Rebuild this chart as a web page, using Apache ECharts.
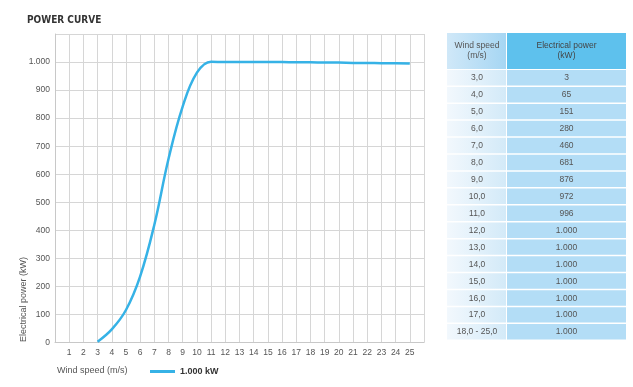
<!DOCTYPE html>
<html>
<head>
<meta charset="utf-8">
<script src="https://cdn.jsdelivr.net/npm/echarts@6/dist/echarts.min.js"></script>
<style>
html,body{margin:0;padding:0;background:#fff;}
#c{width:633px;height:387px;}
</style>
</head>
<body>
<div id="c"></div>
<script>
// Curve data (wind speed m/s, power kW)
const windSpeeds = [3,4,5,6,7,8,9,10,11,12,13,14,15,16,17,18,19,20,21,22,23,24,25];
const powerValues = [3,47,116,236,420,655,842,962,1001,1000,1000,1000,1000,1000,999,999,998,998,997,997,996,996,995];
// Table
const tableSpeeds = ['3,0','4,0','5,0','6,0','7,0','8,0','9,0','10,0','11,0','12,0','13,0','14,0','15,0','16,0','17,0','18,0 - 25,0'];
const tablePowers = ['3','65','151','280','460','681','876','972','996','1.000','1.000','1.000','1.000','1.000','1.000','1.000'];
const xTickLabels = ['1','2','3','4','5','6','7','8','9','10','11','12','13','14','15','16','17','18','19','20','21','22','23','24','25'];
const yTickLabels = ['0','100','200','300','400','500','600','700','800','900','1.000'];

const FONT = 'Liberation Sans, Arial, sans-serif';
const chart = echarts.init(document.getElementById('c'));

// table graphics
const T = {x0:447, x1:507, x2:626, top:33, headBottom:69, bottom:340};
const rowH = (T.bottom - T.headBottom) / tableSpeeds.length;
const g = [];
g.push({type:'rect', shape:{x:T.x0, y:T.top, width:T.x1-T.x0-1, height:T.headBottom-T.top},
  style:{fill:new echarts.graphic.LinearGradient(0,0,1,0,[{offset:0,color:'#d0e8f8'},{offset:1,color:'#a6d6f3'}])}});
g.push({type:'rect', shape:{x:T.x1, y:T.top, width:T.x2-T.x1, height:T.headBottom-T.top},
  style:{fill:'#5ec1ed'}});
g.push({type:'text', x:(T.x0+T.x1)/2, y:(T.top+T.headBottom)/2,
  style:{text:'Wind speed\n(m/s)', fill:'#555', font:'8.5px '+FONT, align:'center', verticalAlign:'middle', lineHeight:10}});
g.push({type:'text', x:(T.x1+T.x2)/2, y:(T.top+T.headBottom)/2,
  style:{text:'Electrical power\n(kW)', fill:'#444', font:'8.5px '+FONT, align:'center', verticalAlign:'middle', lineHeight:10}});
tableSpeeds.forEach((s,i)=>{
  const y = T.headBottom + i*rowH + 1;
  g.push({type:'rect', shape:{x:T.x0, y:y, width:T.x1-T.x0-1, height:rowH-1.5},
    style:{fill:new echarts.graphic.LinearGradient(0,0,1,0,[{offset:0,color:'#f2f8fd'},{offset:1,color:'#d3eaf8'}])}});
  g.push({type:'rect', shape:{x:T.x1, y:y, width:T.x2-T.x1, height:rowH-1.5},
    style:{fill:'#b3ddf6'}});
  g.push({type:'text', x:(T.x0+T.x1)/2, y:y+rowH/2-0.5,
    style:{text:s, fill:'#555', font:'8.5px '+FONT, align:'center', verticalAlign:'middle'}});
  g.push({type:'text', x:(T.x1+T.x2)/2, y:y+rowH/2-0.5,
    style:{text:tablePowers[i], fill:'#555', font:'8.5px '+FONT, align:'center', verticalAlign:'middle'}});
});
// title & axis names
g.push({type:'text', x:27, y:20, style:{text:'POWER CURVE', fill:'#333', font:'bold 10px "Liberation Sans Narrow", "DejaVu Sans Condensed", sans-serif', verticalAlign:'middle'}});
g.push({type:'text', x:57, y:371, style:{text:'Wind speed (m/s)', fill:'#555', font:'9px '+FONT, verticalAlign:'middle'}});
g.push({type:'text', x:24, y:342, rotation:Math.PI/2, style:{text:'Electrical power (kW)', fill:'#555', font:'9px '+FONT, align:'left', verticalAlign:'middle'}});

chart.setOption({
  animation:false,
  grid:{left:55, right:209, top:34, bottom:44.5},
  legend:{show:true, left:145, top:362, icon:'rect', itemWidth:25, itemHeight:3, itemGap:7,
    textStyle:{fontWeight:'bold', fontSize:9, color:'#333', fontFamily:FONT},
    data:['1.000 kW']},
  xAxis:{type:'value', min:0, max:26, interval:1,
    axisLine:{show:true, lineStyle:{color:'#c8c8c8'}}, axisTick:{show:false},
    splitLine:{show:true, lineStyle:{color:'#d6d6d6', width:1}},
    axisLabel:{color:'#555', fontSize:8.5, fontFamily:FONT, margin:6,
      formatter:v=>{const s=String(v); return xTickLabels.indexOf(s)>=0 ? s : '';}}},
  yAxis:{type:'value', min:0, max:1100, interval:100,
    axisLine:{show:true, lineStyle:{color:'#c8c8c8'}}, axisTick:{show:false},
    splitLine:{show:true, lineStyle:{color:'#d6d6d6', width:1}},
    axisLabel:{color:'#555', fontSize:8.5, fontFamily:FONT, margin:5,
      formatter:v=>{const i=Math.round(v/100); return (i<yTickLabels.length)? yTickLabels[i] : '';}}},
  series:[{name:'1.000 kW', type:'line', smooth:0.4, showSymbol:false,
    data:windSpeeds.map((x,i)=>[x,powerValues[i]]),
    lineStyle:{color:'#36b2e6', width:2.5}, itemStyle:{color:'#36b2e6'}}],
  graphic:g
});
</script>
</body>
</html>
